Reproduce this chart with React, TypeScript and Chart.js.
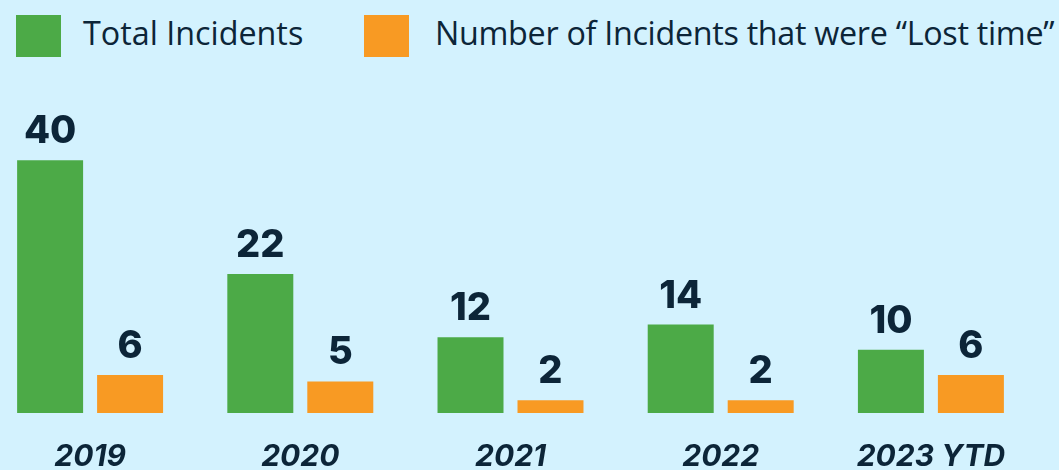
import React, { useEffect, useRef } from "react";
import { Chart, registerables } from "chart.js";

Chart.register(...registerables);

const categories = ["2019", "2020", "2021", "2022", "2023 YTD"];
const totalIncidents = [40, 22, 12, 14, 10];
const lostTimeIncidents = [6, 5, 2, 2, 6];
const seriesNames = ["Total Incidents", "Number of Incidents that were \u201cLost time\u201d"];

const BG = "#d3f2fe";
const GREEN = "#4caa47";
const ORANGE = "#f89a23";
const NAVY = "#0c2538";

const valueLabels = {
  id: "valueLabels",
  afterDatasetsDraw(chart: any) {
    const ctx = chart.ctx;
    ctx.save();
    ctx.fillStyle = NAVY;
    ctx.font = "800 38px Inter";
    ctx.textAlign = "center";
    ctx.textBaseline = "alphabetic";
    chart.data.datasets.forEach((ds: any, di: number) => {
      const meta = chart.getDatasetMeta(di);
      meta.data.forEach((bar: any, i: number) => {
        ctx.fillText(String(ds.data[i]), bar.x, bar.y - 17);
      });
    });
    ctx.restore();
  },
};

export default function App() {
  const ref = useRef<HTMLCanvasElement | null>(null);

  useEffect(() => {
    const canvas = ref.current;
    if (!canvas) return;
    const chart = new Chart(canvas, {
      type: "bar",
      data: {
        labels: categories,
        datasets: [
          {
            label: seriesNames[0],
            data: totalIncidents,
            backgroundColor: GREEN,
            borderWidth: 0,
            barPercentage: 0.825,
            categoryPercentage: 0.761,
          },
          {
            label: seriesNames[1],
            data: lostTimeIncidents,
            backgroundColor: ORANGE,
            borderWidth: 0,
            barPercentage: 0.825,
            categoryPercentage: 0.761,
          },
        ],
      },
      options: {
        responsive: false,
        animation: false,
        devicePixelRatio: 1,
        layout: { padding: { top: 33.8, left: 0, right: 0, bottom: 0 } },
        plugins: {
          legend: { display: false },
          tooltip: { enabled: false },
        },
        scales: {
          x: {
            grid: { display: false, drawTicks: false },
            border: { display: false },
            ticks: {
              color: NAVY,
              padding: 26,
              font: { family: "Inter", size: 30, weight: "bold", style: "italic", lineHeight: 1.2 },
            },
          },
          y: {
            display: false,
            min: 0,
            max: 60,
          },
        },
      },
      plugins: [valueLabels],
    });
    return () => chart.destroy();
  }, []);

  const legendText: React.CSSProperties = {
    position: "absolute",
    top: 11,
    height: 42,
    lineHeight: "42px",
    fontFamily: "'Open Sans'",
    fontSize: 32.3,
    color: NAVY,
    whiteSpace: "nowrap",
  };

  return (
    <div
      style={{
        position: "fixed",
        left: 0,
        top: 0,
        width: 1059,
        height: 470,
        background: BG,
        overflow: "hidden",
      }}
    >
      <div style={{ position: "absolute", left: 16, top: 15, width: 45, height: 42, background: GREEN }} />
      <div style={{ ...legendText, left: 83 }}>{seriesNames[0]}</div>
      <div style={{ position: "absolute", left: 364, top: 15, width: 45, height: 42, background: ORANGE }} />
      <div style={{ ...legendText, left: 435, letterSpacing: -0.3 }}>{seriesNames[1]}</div>
      <canvas
        ref={ref}
        width={1051}
        height={501}
        style={{ position: "absolute", left: -15, top: 0, width: 1051, height: 501 }}
      />
    </div>
  );
}
